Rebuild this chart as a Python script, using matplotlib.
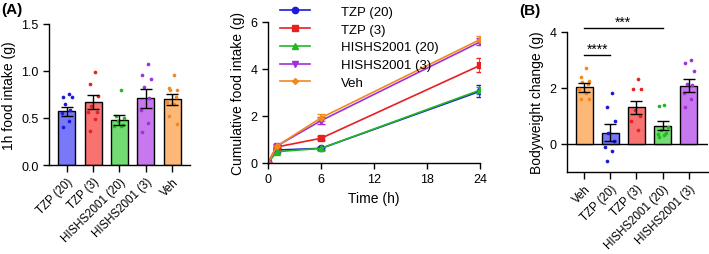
import numpy as np
import matplotlib
matplotlib.use("Agg")
import matplotlib.pyplot as plt
from matplotlib.lines import Line2D

plt.rcParams['font.family'] = ['Liberation Sans', 'DejaVu Sans']
plt.rcParams['font.size'] = 9

# panel A: 1h food intake
groups_a = ["TZP (20)", "TZP (3)", "HISHS2001 (20)", "HISHS2001 (3)", "Veh"]
mean_a = [0.57, 0.67, 0.48, 0.71, 0.70]
sem_a = [0.05, 0.07, 0.05, 0.10, 0.06]
pts_a = [
    [0.76, 0.72, 0.72, 0.65, 0.58, 0.55, 0.47, 0.40],
    [0.99, 0.86, 0.73, 0.63, 0.56, 0.56, 0.49, 0.36],
    [0.80, 0.52, 0.50, 0.47, 0.43, 0.42, 0.42],
    [1.07, 0.96, 0.92, 0.83, 0.71, 0.58, 0.45, 0.35],
    [0.96, 0.82, 0.80, 0.80, 0.72, 0.67, 0.65, 0.52, 0.44],
]

# cumulative intake over time
times = [0, 1, 6, 24]
cum = {
    "TZP (20)": [0, 0.55, 0.62, 3.05],
    "TZP (3)": [0, 0.68, 1.05, 4.15],
    "HISHS2001 (20)": [0, 0.48, 0.62, 3.10],
    "HISHS2001 (3)": [0, 0.72, 1.80, 5.15],
    "Veh": [0, 0.72, 1.92, 5.25],
}
cum_sem = {
    "TZP (20)": [0, 0.05, 0.05, 0.25],
    "TZP (3)": [0, 0.05, 0.08, 0.30],
    "HISHS2001 (20)": [0, 0.05, 0.05, 0.15],
    "HISHS2001 (3)": [0, 0.08, 0.15, 0.15],
    "Veh": [0, 0.06, 0.15, 0.15],
}

# panel B: bodyweight change
groups_b = ["Veh", "TZP (20)", "TZP (3)", "HISHS2001 (20)", "HISHS2001 (3)"]
mean_b = [2.02, 0.40, 1.30, 0.65, 2.08]
sem_b = [0.17, 0.30, 0.23, 0.17, 0.23]
pts_b = [
    [2.7, 2.4, 2.25, 2.2, 2.15, 1.95, 1.8, 1.6, 1.6],
    [1.8, 1.3, 0.8, 0.4, 0.1, -0.1, -0.25, -0.6],
    [2.3, 1.95, 1.95, 1.2, 1.0, 0.8, 0.5],
    [1.4, 1.35, 0.6, 0.5, 0.4, 0.35, 0.3, 0.25],
    [3.0, 2.9, 2.6, 2.15, 2.1, 1.8, 1.6, 1.3],
]

fill = {"TZP (20)": "#7878f8", "TZP (3)": "#f87272", "HISHS2001 (20)": "#72dc72",
        "HISHS2001 (3)": "#c878ee", "Veh": "#fdb878"}
dark = {"TZP (20)": "#1a1ad8", "TZP (3)": "#e82020", "HISHS2001 (20)": "#22b822",
        "HISHS2001 (3)": "#a030d8", "Veh": "#f08a20"}
markers = {"TZP (20)": "o", "TZP (3)": "s", "HISHS2001 (20)": "^",
           "HISHS2001 (3)": "v", "Veh": "D"}


def bar_panel(ax, groups, means, sems, pts):
    x = np.arange(len(groups))
    for i, g in enumerate(groups):
        ax.bar(i, means[i], 0.65, color=fill[g], edgecolor="black", lw=1, zorder=2)
        ax.errorbar(i, means[i], yerr=sems[i], color="black", capsize=4,
                    lw=1, capthick=1, zorder=4)
        p = np.array(pts[i])
        # simple alternating spread, like a small beeswarm
        off = np.array([(-1) ** k * (0.07 + 0.06 * (k % 3)) for k in range(len(p))])
        ax.scatter(i + off, p, s=7, color=dark[g], zorder=3, lw=0)
    ax.set_xticks(x)
    ax.set_xticklabels(groups, rotation=45, ha="right", rotation_mode="anchor",
                       fontsize=8.3)
    ax.spines[["top", "right"]].set_visible(False)
    ax.tick_params(length=4, width=1)
    ax.tick_params(axis="x", length=5, pad=2.5)
    for s in ax.spines.values():
        s.set_linewidth(1)


fig = plt.figure(figsize=(7.09, 2.55), dpi=100)

ax1 = fig.add_axes([0.069, 0.349, 0.199, 0.553])
bar_panel(ax1, groups_a, mean_a, sem_a, pts_a)
ax1.set_xlim(-0.68, 4.68)
ax1.set_ylim(0, 1.5)
ax1.set_yticks([0, 0.5, 1.0, 1.5])
ax1.set_ylabel("1h food intake (g)", fontsize=10)
fig.text(0.002, 0.945, "(A)", fontsize=11, fontweight="bold")

ax2 = fig.add_axes([0.378, 0.357, 0.299, 0.553])
handles = []
for g in ["TZP (20)", "TZP (3)", "HISHS2001 (20)", "HISHS2001 (3)", "Veh"]:
    ms = 3 if markers[g] == "D" else 4.5
    ax2.errorbar(times, cum[g], yerr=cum_sem[g], color=dark[g], marker=markers[g],
                 ms=ms, lw=1.2, capsize=3)
    handles.append(Line2D([], [], color=dark[g], marker=markers[g], ms=ms, lw=1.2, label=g))
ax2.set_xlim(0, 24)
ax2.set_ylim(0, 6)
ax2.set_xticks([0, 6, 12, 18, 24])
ax2.set_yticks([0, 2, 4, 6])
ax2.set_xlabel("Time (h)", fontsize=10)
ax2.set_ylabel("Cumulative food intake (g)", fontsize=10)
ax2.spines[["top", "right"]].set_visible(False)
ax2.tick_params(length=4, width=1)
for s in ax2.spines.values():
    s.set_linewidth(1)
ax2.legend(handles=handles, loc="upper left", bbox_to_anchor=(0.0, 1.2), frameon=False,
           handlelength=2.3, handletextpad=2.3, labelspacing=0.42, fontsize=9.5)

ax3 = fig.add_axes([0.80, 0.322, 0.199, 0.549])
bar_panel(ax3, groups_b, mean_b, sem_b, pts_b)
ax3.set_xlim(-0.65, 4.75)
ax3.set_ylim(-1, 4)
ax3.set_yticks([0, 2, 4])
ax3.axhline(0, color="black", lw=1, zorder=1)
ax3.set_ylabel("Bodyweight change (g)", fontsize=10)
ax3.plot([0, 3], [4.14, 4.14], color="black", lw=1, clip_on=False)
ax3.text(1.5, 4.12, "***", ha="center", va="bottom", fontsize=10)
ax3.plot([0, 1], [3.17, 3.17], color="black", lw=1, clip_on=False)
ax3.text(0.5, 3.15, "****", ha="center", va="bottom", fontsize=10)
fig.text(0.733, 0.94, "(B)", fontsize=11, fontweight="bold")

fig.savefig("out.png", dpi=100)
